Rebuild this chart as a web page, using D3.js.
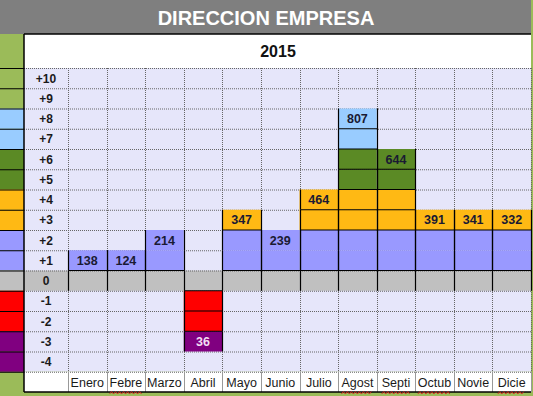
<!DOCTYPE html>
<meta charset="utf-8">
<head>
<script src="https://d3js.org/d3.v7.min.js"></script>
<style>
  body { margin: 0; background: #fff; }
  text { font-family: "Liberation Sans", Arial, sans-serif; }
</style>
</head>
<body>
<div id="container"></div>
<script>

var title = "DIRECCION EMPRESA";
var year = "2015";
var months = ["Enero", "Febre", "Marzo", "Abril", "Mayo", "Junio", "Julio", "Agost", "Septi", "Octub", "Novie", "Dicie"];
var values = [138, 124, 214, 36, 347, 239, 464, 807, 644, 391, 341, 332];
var levels = [1, 1, 2, -3, 3, 2, 4, 8, 6, 3, 3, 3];
var rowLevels = [10, 9, 8, 7, 6, 5, 4, 3, 2, 1, 0, -1, -2, -3, -4];
var rowLabels = ["+10", "+9", "+8", "+7", "+6", "+5", "+4", "+3", "+2", "+1", "0", "-1", "-2", "-3", "-4"];
// months with the red spell-check squiggle
var flagged = ["Febre", "Agost", "Septi", "Octub", "Dicie"];

var width = 533, height = 396;
var left = 24, labelRight = 68, right = 531;
var titleH = 34, headTop = 34, headBottom = 68, tableBottom = 392;

var bgGreen = "#9bbb59";

var svg = d3.select("#container").append("svg")
  .attr("width", width).attr("height", height);

var rows = rowLevels.map(String).concat(["mes"]);
var y = d3.scaleBand().domain(rows).range([headBottom, tableBottom]);
var x = d3.scaleBand().domain(months).range([labelRight, right]);
var rh = y.bandwidth();

var levelColor = d3.scaleThreshold()
  .domain([-2, 0, 1, 3, 5, 7, 9])
  .range(["#800080", "#ff0000", "#c0c0c0", "#9999ff", "#ffb914", "#5b8a25", "#99ccff", bgGreen]);

// background
svg.append("rect").attr("width", width).attr("height", height).attr("fill", bgGreen);

// title bar
svg.append("rect").attr("x", 0).attr("y", 0).attr("width", right).attr("height", titleH).attr("fill", "#7f7f7f");
svg.append("text").attr("x", 266).attr("y", 25)
  .attr("text-anchor", "middle").attr("fill", "#fff")
  .style("font-size", "20px").style("font-weight", "bold")
  .text(title);

// header row
svg.append("rect").attr("x", left).attr("y", headTop).attr("width", right - left).attr("height", headBottom - headTop).attr("fill", "#fff");
svg.append("text").attr("x", 278).attr("y", 57)
  .attr("text-anchor", "middle").attr("fill", "#111")
  .style("font-size", "16px").style("font-weight", "bold")
  .text(year);

// body cells
var bodyBottom = y("-4") + rh;
svg.append("rect").attr("x", left).attr("y", headBottom).attr("width", right - left).attr("height", bodyBottom - headBottom).attr("fill", "#e6e6fa");
svg.append("rect").attr("x", left).attr("y", y("0")).attr("width", right - left).attr("height", rh).attr("fill", "#c0c0c0");
svg.append("rect").attr("x", left).attr("y", y("mes")).attr("width", right - left).attr("height", tableBottom - y("mes")).attr("fill", "#fff");

// dotted grid
var hLines = rowLevels.map(function(l) { return y(String(l)); }).concat([bodyBottom]);
svg.append("g").selectAll("line").data(hLines).join("line")
  .attr("x1", left).attr("x2", right).attr("y1", function(d) { return d + 0.5; }).attr("y2", function(d) { return d + 0.5; })
  .attr("stroke", "#666").attr("stroke-dasharray", "1,1");
var vLines = [labelRight].concat(months.map(function(m) { return x(m) + x.bandwidth(); }));
svg.append("g").selectAll("line").data(vLines).join("line")
  .attr("x1", function(d) { return Math.round(d) + 0.5; }).attr("x2", function(d) { return Math.round(d) + 0.5; })
  .attr("y1", headBottom).attr("y2", bodyBottom)
  .attr("stroke", "#666").attr("stroke-dasharray", "1,1");

// filled cells
var cells = [];
months.forEach(function(m, i) {
  var L = levels[i];
  var step = L > 0 ? 1 : -1;
  for (var l = step; Math.abs(l) <= Math.abs(L); l += step) {
    cells.push({ month: m, level: l, top: l === L, value: values[i] });
  }
});

svg.append("g").selectAll("rect").data(cells).join("rect")
  .attr("x", function(d) { return x(d.month); })
  .attr("y", function(d) { return y(String(d.level)); })
  .attr("width", x.bandwidth()).attr("height", rh)
  .attr("fill", function(d) { return levelColor(d.level); });

// black borders of filled cells
var cb = svg.append("g").attr("stroke", "#000").attr("stroke-width", 1.2);
cells.forEach(function(d) {
  var x0 = Math.round(x(d.month)) + 0.5, x1 = Math.round(x(d.month) + x.bandwidth()) + 0.5;
  var y0 = y(String(d.level)), y1 = y0 + rh;
  cb.append("line").attr("x1", x0).attr("x2", x0).attr("y1", y0).attr("y2", y1);
  cb.append("line").attr("x1", x1).attr("x2", x1).attr("y1", y0).attr("y2", y1);
  if (d.level !== 2) {
    var yy = d.level > 0 ? y1 : y0;
    cb.append("line").attr("x1", x0).attr("x2", x1).attr("y1", yy).attr("y2", yy);
  }
});

// zero row verticals
cb.selectAll(".zv").data(vLines).join("line").attr("class", "zv")
  .attr("x1", function(d) { return Math.round(d) + 0.5; }).attr("x2", function(d) { return Math.round(d) + 0.5; })
  .attr("y1", y("0")).attr("y2", y("0") + rh);

// month row separators
svg.append("g").selectAll("line").data(vLines).join("line")
  .attr("x1", function(d) { return Math.round(d) + 0.5; }).attr("x2", function(d) { return Math.round(d) + 0.5; })
  .attr("y1", y("mes")).attr("y2", tableBottom)
  .attr("stroke", "#999");

// left colour strip
svg.append("g").selectAll("rect").data(rowLevels).join("rect")
  .attr("x", 0).attr("y", function(d) { return y(String(d)); })
  .attr("width", left).attr("height", rh)
  .attr("fill", function(d) { return levelColor(d); });
svg.append("g").selectAll("line").data([headBottom].concat(hLines)).join("line")
  .attr("x1", 0).attr("x2", left).attr("y1", function(d) { return d + 0.5; }).attr("y2", function(d) { return d + 0.5; })
  .attr("stroke", "#000");

// table frame
var fr = svg.append("g").attr("stroke", "#000").attr("stroke-width", 1.5);
fr.append("line").attr("x1", left).attr("x2", left).attr("y1", headTop).attr("y2", tableBottom);
fr.append("line").attr("x1", left).attr("x2", right).attr("y1", headTop).attr("y2", headTop);
fr.append("line").attr("x1", left).attr("x2", right).attr("y1", tableBottom).attr("y2", tableBottom);

// row labels
svg.append("g").selectAll("text").data(rowLevels).join("text")
  .attr("x", (left + labelRight) / 2)
  .attr("y", function(d) { return y(String(d)) + rh / 2 + 4.5; })
  .attr("text-anchor", "middle").attr("fill", "#1a1a1a")
  .style("font-size", "12px").style("font-weight", "bold")
  .text(function(d, i) { return rowLabels[i]; });

// values
svg.append("g").selectAll("text").data(cells.filter(function(d) { return d.top; })).join("text")
  .attr("x", function(d) { return x(d.month) + x.bandwidth() / 2; })
  .attr("y", function(d) { return y(String(d.level)) + rh / 2 + 4.5; })
  .attr("text-anchor", "middle")
  .attr("fill", function(d) { return d.level < -2 ? "#f2dff2" : "#1a1a33"; })
  .style("font-size", "12.5px").style("font-weight", "bold")
  .text(function(d) { return d.value; });

// month labels
var mt = svg.append("g").selectAll("text").data(months).join("text")
  .attr("x", function(d) { return x(d) + x.bandwidth() / 2; })
  .attr("y", y("mes") + rh / 2 + 5)
  .attr("text-anchor", "middle").attr("fill", "#1a1a1a")
  .style("font-size", "12.5px")
  .text(function(d) { return d; });

// spell-check squiggles
mt.each(function(d) {
  if (flagged.indexOf(d) < 0) return;
  var w = this.getComputedTextLength();
  var cx = x(d) + x.bandwidth() / 2;
  var xs = d3.range(cx - w / 2, cx + w / 2, 2);
  var pts = xs.map(function(px, k) { return [px, (k % 2 ? 391.5 : 394)]; });
  svg.append("path").attr("d", d3.line()(pts))
    .attr("fill", "none").attr("stroke", "#e02020").attr("stroke-width", 0.9);
});

</script>
</body>
